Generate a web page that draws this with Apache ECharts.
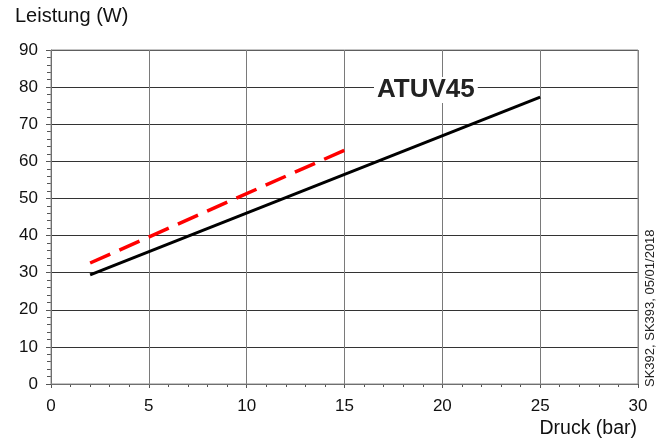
<!DOCTYPE html>
<html>
<head>
<meta charset="utf-8">
<script src="https://cdn.jsdelivr.net/npm/echarts@6/dist/echarts.min.js"></script>
<style>
  html, body { margin: 0; padding: 0; background: #fff; }
  #chart { width: 670px; height: 443px; }
</style>
</head>
<body>
<div id="chart"></div>
<script>
// Druck (bar) / Leistung (W)
const atuvLine = [[2, 29.4], [25, 77.3]];
const redDashed = [[2, 32.6], [15, 63]];
const xTicks = [0, 5, 10, 15, 20, 25, 30];
const yTicks = [0, 10, 20, 30, 40, 50, 60, 70, 80, 90];

const chart = echarts.init(document.getElementById('chart'));
const font = 'Liberation Sans, Arial, sans-serif';

chart.setOption({
  animation: false,
  grid: { left: 51, right: 32, top: 50, bottom: 59 },
  xAxis: {
    type: 'value',
    min: xTicks[0], max: xTicks[xTicks.length - 1], interval: 5,
    axisLine: { show: true, lineStyle: { color: '#555', width: 1 } },
    axisTick: { show: true, length: 4, lineStyle: { color: '#555' } },
    minorTick: { show: true, splitNumber: 5, length: 3, lineStyle: { color: '#555' } },
    splitLine: { show: true, lineStyle: { color: '#7a7a7a', width: 1 } },
    axisLabel: { color: '#111', fontSize: 17, fontFamily: font, margin: 14 }
  },
  yAxis: {
    type: 'value',
    min: yTicks[0], max: yTicks[yTicks.length - 1], interval: 10,
    axisLine: { show: true, lineStyle: { color: '#555', width: 1 } },
    axisTick: { show: true, length: 5, lineStyle: { color: '#555' } },
    minorTick: { show: true, splitNumber: 5, length: 4, lineStyle: { color: '#555' } },
    splitLine: { show: true, lineStyle: { color: '#333', width: 1 } },
    axisLabel: { color: '#111', fontSize: 17, fontFamily: font, margin: 13 }
  },
  graphic: [
    { type: 'rect', shape: { x: 51, y: 50, width: 587, height: 334 }, style: { fill: 'none', stroke: '#8a8a8a', lineWidth: 1 }, z: 1 },
    { type: 'text', left: 15, top: 6, style: { text: 'Leistung (W)', fontSize: 20, fontFamily: font, fill: '#111' } },
    { type: 'text', right: 33, top: 419, style: { text: 'Druck (bar)', fontSize: 19.5, fontFamily: font, fill: '#111' } },
    { type: 'text', x: 644, y: 387, rotation: Math.PI / 2, style: { text: 'SK392, SK393, 05/01/2018', fontSize: 13, fontFamily: font, fill: '#222' } },
    { type: 'text', x: 374, y: 77, z: 10, style: { text: 'ATUV45', fontSize: 26, fontWeight: 'bold', fontFamily: font, fill: '#222', backgroundColor: '#fff', padding: [0, 3] } }
  ],
  series: [
    {
      type: 'line', data: atuvLine, symbol: 'none', z: 5,
      lineStyle: { color: '#000', width: 3 }
    },
    {
      type: 'line', data: redDashed, symbol: 'none', z: 5,
      lineStyle: { color: '#ff0000', width: 3.5, type: [22, 10] }
    }
  ]
});
</script>
</body>
</html>
